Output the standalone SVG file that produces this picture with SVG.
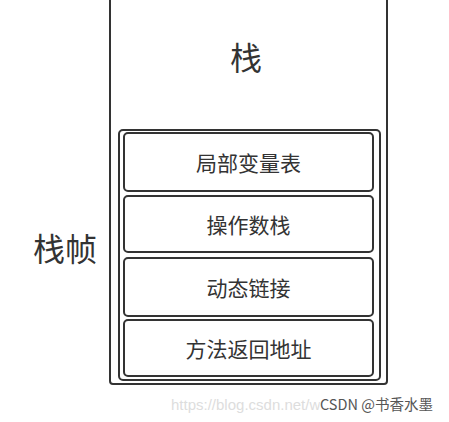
<svg xmlns="http://www.w3.org/2000/svg" width="449" height="422" viewBox="0 0 449 422">
<style>
.box{fill:#fff;stroke:#333;stroke-width:2}
.lbl{font-family:"Noto Sans CJK SC","Noto Sans",sans-serif;fill:#333;text-anchor:middle;dominant-baseline:central}
.big{font-size:32px}
.mid{font-size:21px}
</style>
<rect width="449" height="422" fill="#fff"/>
<g id="stack">
<rect class="box" x="110" y="-10" width="277" height="394" rx="3"/>
<text class="lbl big" x="246" y="56">栈</text>
</g>
<g id="frame">
<rect class="box" x="119" y="130" width="261" height="250" rx="4"/>
<text class="lbl big" x="65" y="247">栈帧</text>
</g>
<g id="locals">
<rect class="box" x="124" y="133" width="249" height="58" rx="4"/>
<text class="lbl mid" x="248.5" y="162">局部变量表</text>
</g>
<g id="operand">
<rect class="box" x="124" y="196" width="249" height="56" rx="4"/>
<text class="lbl mid" x="248.5" y="224">操作数栈</text>
</g>
<g id="dynlink">
<rect class="box" x="124" y="258" width="249" height="58" rx="4"/>
<text class="lbl mid" x="248.5" y="287">动态链接</text>
</g>
<g id="retaddr">
<rect class="box" x="124" y="320" width="249" height="56" rx="4"/>
<text class="lbl mid" x="248.5" y="348">方法返回地址</text>
</g>
<g id="connectors"></g>
<g id="watermark">
<text x="171" y="410" font-family="Liberation Sans, sans-serif" font-size="15" fill="#ddd">https://blog.csdn.net/w</text>
<text x="320" y="410" font-family="'Noto Sans CJK SC', sans-serif" font-size="14.5" fill="#555" stroke="#fff" stroke-width="2" paint-order="stroke">CSDN @书香水墨</text>
</g>
</svg>
